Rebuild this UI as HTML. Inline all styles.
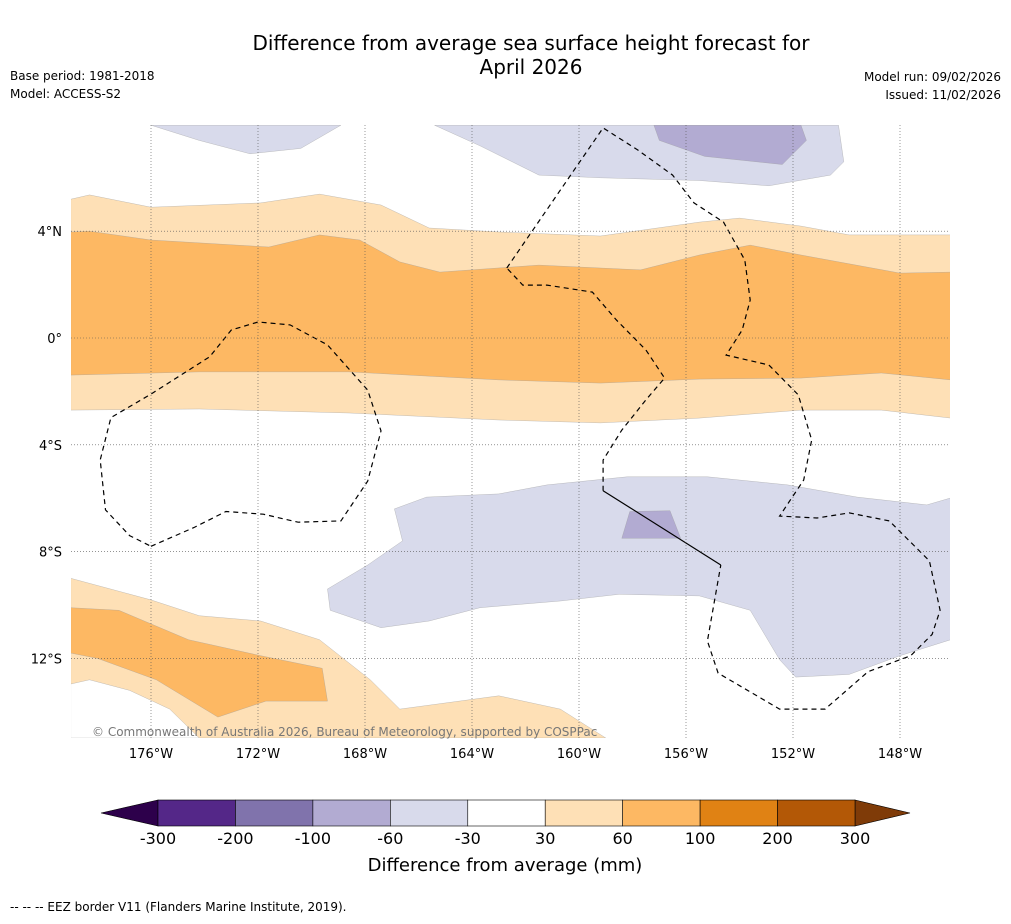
<!DOCTYPE html>
<html><head><meta charset="utf-8"><style>
body{margin:0;background:#fff;font-family:"Liberation Sans",sans-serif;}
svg text{font-family:"DejaVu Sans","Liberation Sans",sans-serif;}
</style></head><body>
<svg width="1011" height="919" viewBox="0 0 1011 919">
<rect width="1011" height="919" fill="#fff"/>
<text x="531" y="50" font-size="20" text-anchor="middle">Difference from average sea surface height forecast for</text>
<text x="531" y="74" font-size="20" text-anchor="middle">April 2026</text>
<text x="10" y="80" font-size="12">Base period: 1981-2018</text>
<text x="10" y="98" font-size="12">Model: ACCESS-S2</text>
<text x="1001" y="81" font-size="12" text-anchor="end">Model run: 09/02/2026</text>
<text x="1001" y="99" font-size="12" text-anchor="end">Issued: 11/02/2026</text>
<g id="map"></g>
<g id="cbar"></g>
<text x="505" y="871" font-size="18" text-anchor="middle">Difference from average (mm)</text>
<text x="10" y="911" font-size="12">--  --  -- EEZ border V11 (Flanders Marine Institute, 2019).</text>
</svg>
<script>
const lonTicks=[-176,-172,-168,-164,-160,-156,-152,-148];
const latTicks=[4,0,-4,-8,-12];
const levels=[-300,-200,-100,-60,-30,30,60,100,200,300];
const levelColors=["#542788","#8073ac","#b2abd2","#d8daeb","#ffffff","#fee0b6","#fdb863","#e08214","#b35806"];
// polygons as [lon,lat] (lon negative = W)
const lightOrangeNorth=[[-179,5.2],[-178.3,5.36],[-176,4.9],[-171.9,5.06],[-169.7,5.39],[-167.4,4.98],[-165.6,4.12],[-163,3.97],[-159.2,3.82],[-155.5,4.34],[-154,4.49],[-151.7,4.19],[-149.9,3.86],[-146.1,3.86],[-146.1,-3.0],[-148.7,-2.7],[-151.7,-2.7],[-155.5,-3.0],[-159.2,-3.18],[-163,-3.07],[-168.6,-2.81],[-174.2,-2.66],[-179,-2.7]];
const orangeBand=[[-179,3.97],[-178.3,4.0],[-176,3.67],[-171.6,3.41],[-169.7,3.86],[-168.2,3.67],[-166.7,2.85],[-165.2,2.47],[-161.5,2.73],[-157.7,2.55],[-155.5,3.11],[-153.6,3.48],[-151.7,3.11],[-148,2.43],[-146.1,2.47],[-146.1,-1.57],[-148.7,-1.31],[-151.7,-1.5],[-155.5,-1.54],[-159.2,-1.69],[-163,-1.57],[-168.6,-1.27],[-174.2,-1.27],[-179,-1.39]];
const purpleTopLeft=[[-176,7.97],[-174.2,7.4],[-172.3,6.9],[-170.4,7.1],[-168.9,7.97]];
const purpleTopRight=[[-165.4,7.97],[-163.7,7.2],[-161.5,6.1],[-159.2,6.0],[-155.5,5.9],[-152.9,5.7],[-150.6,6.1],[-150.1,6.6],[-150.3,7.97]];
const purpleTopDark=[[-157.2,7.97],[-157,7.4],[-155.3,6.8],[-152.4,6.5],[-151.5,7.4],[-151.7,7.97]];
const purpleSouth=[[-169.4,-9.4],[-167.9,-8.5],[-166.6,-7.6],[-166.9,-6.4],[-165.7,-5.96],[-163,-5.84],[-161.2,-5.5],[-158.2,-5.2],[-155.2,-5.2],[-152.2,-5.5],[-149.6,-5.96],[-147,-6.25],[-146.1,-5.99],[-146.1,-11.3],[-148,-11.9],[-149.9,-12.6],[-151.9,-12.7],[-152.5,-12.05],[-153.6,-10.2],[-155.5,-9.66],[-158.5,-9.6],[-160.7,-9.85],[-163.7,-10.1],[-165.6,-10.6],[-167.4,-10.85],[-169.3,-10.2]];
const purpleSouthDark=[[-158.4,-7.5],[-158.1,-6.5],[-156.6,-6.47],[-156.2,-7.5]];
const lightOrangeSW=[[-179,-9.0],[-176,-9.81],[-174.2,-10.4],[-171.9,-10.6],[-169.7,-11.3],[-167.8,-12.8],[-166.7,-13.9],[-163,-13.4],[-160.7,-13.9],[-159,-14.98],[-179,-14.98]];
const orangeSW=[[-179,-10.1],[-177.2,-10.2],[-174.6,-11.3],[-171.9,-11.9],[-169.6,-12.37],[-169.4,-13.6],[-171.7,-13.6],[-173.5,-14.2],[-175.8,-12.8],[-178,-12.0],[-179,-11.8]];
const whiteSW=[[-179,-12.96],[-178.3,-12.8],[-176.8,-13.2],[-175.3,-13.9],[-174.2,-14.98],[-179,-14.98]];
const eez1=[[-176,-7.8],[-174.4,-7.1],[-173.2,-6.5],[-171.8,-6.6],[-170.5,-6.9],[-168.9,-6.85],[-167.9,-5.36],[-167.4,-3.48],[-167.9,-1.95],[-169.4,-0.26],[-170.8,0.49],[-172,0.6],[-173,0.3],[-173.8,-0.7],[-176,-2.1],[-177.5,-2.98],[-177.9,-4.57],[-177.7,-6.44],[-176.8,-7.4],[-176,-7.8]];
const eez2=[[-162.7,2.62],[-159.1,7.87],[-157.8,7.04],[-156.5,6.1],[-155.7,5.06],[-154.6,4.34],[-153.8,2.92],[-153.6,1.42],[-153.9,0.3],[-154.5,-0.64],[-152.9,-1.01],[-151.8,-2.13],[-151.3,-3.82],[-151.6,-5.32],[-152.5,-6.67],[-151.1,-6.74],[-149.9,-6.55],[-148.4,-6.85],[-146.9,-8.35],[-146.5,-10.2],[-146.8,-11.1],[-147.6,-11.9],[-149.2,-12.5],[-150.8,-13.9],[-152.5,-13.9],[-154.8,-12.55],[-155.2,-11.35],[-154.7,-8.5]];
const eez2b=[[-159.1,-5.72],[-159.1,-4.57],[-158.4,-3.45],[-157.5,-2.32],[-156.8,-1.5],[-157.5,-0.45],[-158.6,0.67],[-159.5,1.72],[-161.2,1.98],[-162.1,1.98],[-162.7,2.62]];
const eezSolid=[[-159.1,-5.72],[-154.7,-8.5]];
const NS="http://www.w3.org/2000/svg";
const X0=71,X1=950,Y0=125,Y1=738;
function xs(lon){return 151+(lon+176)*26.75;}
function ys(lat){return 338-lat*26.7;}
function mk(tag,attrs,parent){const e=document.createElementNS(NS,tag);for(const k in attrs)e.setAttribute(k,attrs[k]);parent.appendChild(e);return e;}
const map=document.getElementById('map');
const defs=mk('defs',{},map);
const cp=mk('clipPath',{id:'clip'},defs);
mk('rect',{x:X0,y:Y0,width:X1-X0,height:Y1-Y0},cp);
const g=mk('g',{'clip-path':'url(#clip)'},map);
function pts(a){return a.map(p=>xs(p[0]).toFixed(1)+','+ys(p[1]).toFixed(1)).join(' ');}
function poly(a,fill,name){const e=mk('polygon',{points:pts(a),fill:fill,stroke:'#999',"stroke-width":0.3},g);

}
poly(lightOrangeNorth,levelColors[5],'contour-30-60-north');
poly(orangeBand,levelColors[6],'contour-60-100-equator');
poly(purpleTopLeft,levelColors[3],'contour-neg30-60-topleft');
poly(purpleTopRight,levelColors[3],'contour-neg30-60-topright');
poly(purpleTopDark,levelColors[2],'contour-neg60-100-top');
poly(purpleSouth,levelColors[3],'contour-neg30-60-south');
poly(purpleSouthDark,levelColors[2],'contour-neg60-100-south');
poly(lightOrangeSW,levelColors[5],'contour-30-60-southwest');
poly(orangeSW,levelColors[6],'contour-60-100-southwest');
poly(whiteSW,'#ffffff','contour-neutral-southwest');
// gridlines
lonTicks.forEach(l=>{const e=mk('line',{x1:xs(l),x2:xs(l),y1:Y0,y2:Y1,stroke:'#555','stroke-width':0.6,'stroke-dasharray':'1,2'},map);


const t=mk('text',{x:xs(l),y:758,'font-size':13,'text-anchor':'middle'},map);t.textContent=(-l)+'°W';

});
latTicks.forEach(l=>{const e=mk('line',{x1:X0,x2:X1,y1:ys(l),y2:ys(l),stroke:'#555','stroke-width':0.6,'stroke-dasharray':'1,2'},map);


const t=mk('text',{x:62,y:ys(l)+5,'font-size':13,'text-anchor':'end'},map);t.textContent=l===0?'0°':Math.abs(l)+(l>0?'°N':'°S');

});
function line(a,dash,name){const e=mk('polyline',{points:pts(a),fill:'none',stroke:'#000','stroke-width':1.2,'stroke-dasharray':dash},g);

}
line(eez1,'5,4','eez-border-west');
line(eez2,'5,4','eez-border-east');
line(eez2b,'5,4','eez-border-central');
line(eezSolid,'','eez-border-solid');
const cr=mk('text',{x:92,y:736,'font-size':12,fill:'#777'},map);cr.textContent='© Commonwealth of Australia 2026, Bureau of Meteorology, supported by COSPPac';


// colorbar
const cb=document.getElementById('cbar');
const cx0=158,cx1=855,cy=800,ch=26,n=levelColors.length,w=(cx1-cx0)/n;
const lt=mk('polygon',{points:`${cx0},${cy} ${cx0},${cy+ch} 101,${cy+ch/2}`,fill:'#2d004b',stroke:'#000','stroke-width':0.6},cb);


const rt=mk('polygon',{points:`${cx1},${cy} ${cx1},${cy+ch} 910,${cy+ch/2}`,fill:'#7f3b08',stroke:'#000','stroke-width':0.6},cb);


levelColors.forEach((c,i)=>{const r=mk('rect',{x:cx0+i*w,y:cy,width:w,height:ch,fill:c,stroke:'#000','stroke-width':0.6},cb);

});
levels.forEach((v,i)=>{const t=mk('text',{x:cx0+i*w,y:844,'font-size':16,'text-anchor':'middle'},cb);t.textContent=v;

});
</script>
</body></html>
